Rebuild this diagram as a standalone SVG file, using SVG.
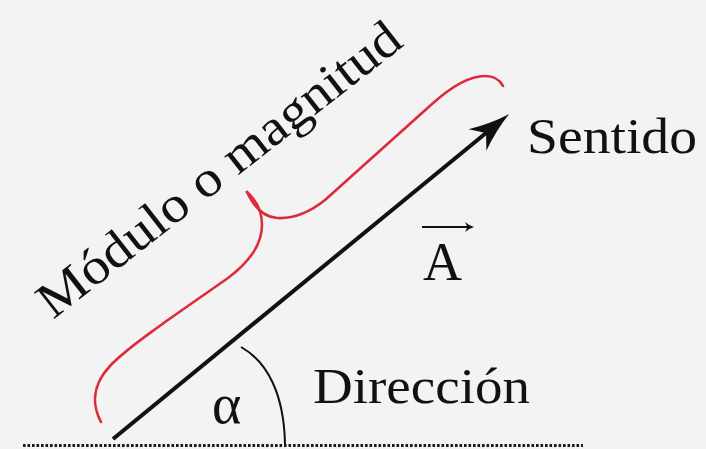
<svg xmlns="http://www.w3.org/2000/svg" width="706" height="449" viewBox="0 0 706 449">
<style>
.t{font-family:"Liberation Serif","Times New Roman",serif;fill:#111}
.brace{fill:none;stroke:#dc2a3e;stroke-width:2.6;stroke-linecap:round;stroke-linejoin:round}
.ink{fill:none;stroke:#111;stroke-linecap:butt}
</style>
<defs>
<marker id="head" markerUnits="userSpaceOnUse" markerWidth="60" markerHeight="40" refX="0" refY="0" orient="auto" overflow="visible">
<path d="M30,0 Q10,-4 -11,-14 Q-3,-4 0,0 Q-3,4 -11,14 Q10,4 30,0 Z" fill="#111"/>
</marker>
<marker id="small" markerUnits="userSpaceOnUse" markerWidth="20" markerHeight="20" refX="0" refY="0" orient="auto" overflow="visible">
<path d="M6,0 Q1,-1.5 -3,-5 Q-1,-1.5 -1,0 Q-1,1.5 -3,5 Q1,1.5 6,0 Z" fill="#111"/>
</marker>
</defs>
<rect width="706" height="449" fill="#f3f3f3"/>
<g id="baseline">
<line x1="23" y1="445.5" x2="583" y2="445.5" stroke="#1a1a1a" stroke-width="3" stroke-dasharray="2.6 1.9"/>
</g>
<g id="connectors">
<line id="vector" class="ink" x1="113" y1="439" x2="486" y2="133" stroke-width="4" marker-end="url(#head)"/>
<path id="angle-arc" class="ink" d="M241,347 C268,362 284,395 285,444" stroke-width="2"/>
</g>
<g id="brace">
<path class="brace" d="M101,422 C92,405 92,385 110,366 C125,350 145,337 165,322 L228,278 C252,260 262,243 262,225 C262,210 255,199 247,192"/>
<path class="brace" d="M247,192 C253,205 262,217 277,218 C295,219 310,212 325,200 L432,104 C452,86 470,76 485,76 C495,76 500,80 503,86"/>
</g>
<g id="label-modulo">
<text class="t" font-size="51" transform="translate(53,320) rotate(-38)" textLength="447" lengthAdjust="spacingAndGlyphs">Módulo o magnitud</text>
</g>
<g id="label-sentido">
<text class="t" x="527" y="153" font-size="51" textLength="170" lengthAdjust="spacingAndGlyphs">Sentido</text>
</g>
<g id="label-direccion">
<text class="t" x="313" y="403" font-size="50" textLength="217" lengthAdjust="spacingAndGlyphs">Dirección</text>
</g>
<g id="label-A">
<line class="ink" x1="422" y1="227" x2="468" y2="227" stroke-width="2" marker-end="url(#small)"/>
<text class="t" x="423" y="280" font-size="54">A</text>
</g>
<g id="label-alpha">
<text class="t" x="212" y="423" font-size="56">α</text>
</g>
</svg>
